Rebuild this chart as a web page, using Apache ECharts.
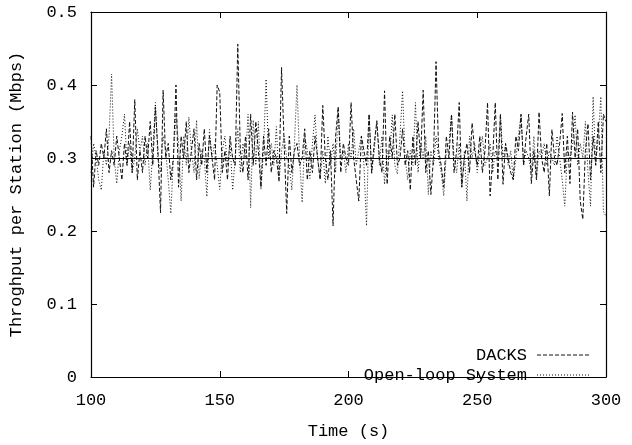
<!DOCTYPE html>
<html>
<head>
<meta charset="utf-8">
<script src="https://cdn.jsdelivr.net/npm/echarts@6/dist/echarts.min.js"></script>
<style>html,body{margin:0;padding:0;background:#fff}#c{width:632px;height:445px}</style>
</head>
<body>
<div id="c"></div>
<script>
// ---- data ----
const startTime = 100; // seconds, 1 s sampling
const dacks = [
0.33,0.26,0.31,0.29,0.32,0.30,0.34,0.28,0.31,0.29,
0.33,0.30,0.27,0.32,0.29,0.35,0.28,0.38,0.27,0.31,
0.28,0.33,0.30,0.35,0.29,0.37,0.31,0.225,0.393,0.30,
0.32,0.27,0.30,0.40,0.26,0.33,0.30,0.35,0.28,0.31,
0.34,0.27,0.32,0.29,0.34,0.28,0.33,0.30,0.27,0.40,
0.39,0.28,0.31,0.27,0.33,0.30,0.29,0.456,0.31,0.28,
0.33,0.27,0.36,0.29,0.35,0.31,0.26,0.33,0.29,0.34,
0.28,0.31,0.30,0.27,0.424,0.32,0.224,0.33,0.28,0.31,
0.32,0.29,0.30,0.34,0.27,0.31,0.28,0.33,0.30,0.27,
0.372,0.30,0.27,0.31,0.207,0.33,0.37,0.28,0.32,0.30,
0.29,0.376,0.30,0.27,0.241,0.33,0.31,0.29,0.36,0.28,
0.32,0.35,0.30,0.28,0.392,0.264,0.33,0.30,0.36,0.29,
0.30,0.34,0.29,0.31,0.256,0.33,0.29,0.35,0.30,0.393,
0.28,0.31,0.25,0.30,0.432,0.31,0.29,0.26,0.33,0.30,
0.36,0.28,0.31,0.376,0.26,0.30,0.32,0.28,0.348,0.31,
0.29,0.33,0.28,0.31,0.376,0.248,0.30,0.376,0.27,0.36,
0.264,0.32,0.30,0.28,0.27,0.33,0.31,0.36,0.29,0.33,
0.36,0.265,0.31,0.27,0.363,0.30,0.28,0.32,0.248,0.339,
0.30,0.29,0.32,0.361,0.28,0.33,0.265,0.363,0.30,0.34,
0.241,0.216,0.31,0.347,0.27,0.33,0.29,0.35,0.28,0.36,
0.35
];
const openLoop = [
0.28,0.32,0.30,0.27,0.256,0.31,0.29,0.33,0.415,0.30,
0.265,0.31,0.33,0.36,0.29,0.32,0.28,0.30,0.34,0.31,
0.33,0.29,0.32,0.256,0.31,0.376,0.30,0.28,0.33,0.31,
0.27,0.224,0.30,0.36,0.32,0.241,0.33,0.29,0.356,0.31,
0.28,0.352,0.272,0.31,0.30,0.247,0.339,0.30,0.32,0.29,
0.257,0.31,0.33,0.29,0.32,0.256,0.30,0.34,0.28,0.32,
0.30,0.36,0.232,0.352,0.29,0.35,0.257,0.31,0.408,0.30,
0.32,0.29,0.343,0.267,0.31,0.33,0.30,0.29,0.256,0.32,
0.40,0.30,0.239,0.33,0.31,0.272,0.32,0.359,0.30,0.272,
0.31,0.265,0.33,0.29,0.32,0.28,0.369,0.30,0.31,0.28,
0.32,0.30,0.34,0.29,0.31,0.33,0.29,0.207,0.36,0.278,
0.31,0.352,0.29,0.33,0.264,0.31,0.30,0.359,0.29,0.278,
0.33,0.392,0.30,0.27,0.31,0.29,0.376,0.28,0.32,0.30,
0.33,0.25,0.31,0.29,0.33,0.30,0.28,0.248,0.31,0.32,
0.359,0.30,0.28,0.32,0.26,0.31,0.241,0.33,0.30,0.32,
0.28,0.31,0.33,0.29,0.30,0.32,0.28,0.31,0.30,0.36,
0.30,0.318,0.29,0.31,0.27,0.30,0.33,0.36,0.29,0.31,
0.30,0.28,0.33,0.272,0.31,0.30,0.32,0.29,0.31,0.30,
0.29,0.33,0.30,0.27,0.234,0.31,0.30,0.32,0.359,0.29,
0.32,0.30,0.35,0.28,0.234,0.384,0.29,0.33,0.384,0.227,
0.22
];
const referenceLevel = 0.3;
const seriesNames = ['DACKS', 'Open-loop System'];
const xTitle = 'Time (s)';
const yTitle = 'Throghput per Station (Mbps)';

// ---- chart ----
const toPairs = arr => arr.map((v, i) => [startTime + i, v]);
const font = 'Liberation Mono, Courier New, monospace';
const fs = 17;
const dashes = [[4, 2], [1, 2]];
const chart = echarts.init(document.getElementById('c'), null, {renderer: 'canvas'});
const tickStyle = {show: true, inside: true, length: 6, lineStyle: {color: '#000', width: 1}};
const lineAx = {show: true, onZero: false, lineStyle: {color: '#000', width: 1.2}};

// key (legend) drawn as text + sample line, placed inside the plot's lower right
const keyEls = [];
seriesNames.forEach((name, i) => {
  const cy = 355 + i * 20;
  keyEls.push({
    type: 'text', x: 527, y: cy, z: 100,
    style: {text: name, font: fs + 'px ' + font, fill: '#000', align: 'right', verticalAlign: 'middle', textAlign: 'right', textVerticalAlign: 'middle'}
  });
  keyEls.push({
    type: 'line', z: 100, shape: {x1: 537, y1: cy, x2: 590, y2: cy},
    style: {stroke: '#111', lineWidth: 1, lineDash: dashes[i]}
  });
});

chart.setOption({
  animation: false,
  backgroundColor: '#fff',
  textStyle: {fontFamily: font},
  grid: {left: 88, top: 12, width: 518, height: 375},
  xAxis: [{
    type: 'value', min: 100, max: 300, interval: 50,
    axisLine: lineAx, axisTick: tickStyle, splitLine: {show: false},
    axisLabel: {fontFamily: font, fontSize: fs, color: '#000', margin: 15},
    name: xTitle, nameLocation: 'middle', nameGap: 46,
    nameTextStyle: {fontFamily: font, fontSize: fs, color: '#000'}
  }, {
    type: 'value', position: 'top', min: 100, max: 300, interval: 50,
    axisLine: lineAx, axisTick: tickStyle, splitLine: {show: false}, axisLabel: {show: false}
  }],
  yAxis: [{
    type: 'value', min: 0, max: 0.5, interval: 0.1,
    axisLine: lineAx, axisTick: tickStyle, splitLine: {show: false},
    axisLabel: {fontFamily: font, fontSize: fs, color: '#000', margin: 14},
    name: yTitle, nameLocation: 'middle', nameGap: 66,
    nameTextStyle: {fontFamily: font, fontSize: fs, color: '#000'}
  }, {
    type: 'value', position: 'right', min: 0, max: 0.5, interval: 0.1,
    axisLine: lineAx, axisTick: tickStyle, splitLine: {show: false}, axisLabel: {show: false}
  }],
  series: [{
    name: seriesNames[0], type: 'line', data: toPairs(dacks), symbol: 'none',
    lineStyle: {color: '#111', width: 1, type: dashes[0]},
    itemStyle: {color: '#111'},
    markLine: {
      silent: true, symbol: 'none', label: {show: false}, z: 10,
      lineStyle: {color: '#000', width: 1.2, type: 'solid'},
      data: [{yAxis: referenceLevel}]
    }
  }, {
    name: seriesNames[1], type: 'line', data: toPairs(openLoop), symbol: 'none',
    lineStyle: {color: '#111', width: 1, type: dashes[1]},
    itemStyle: {color: '#111'}
  }],
  graphic: keyEls
});
</script>
</body>
</html>
